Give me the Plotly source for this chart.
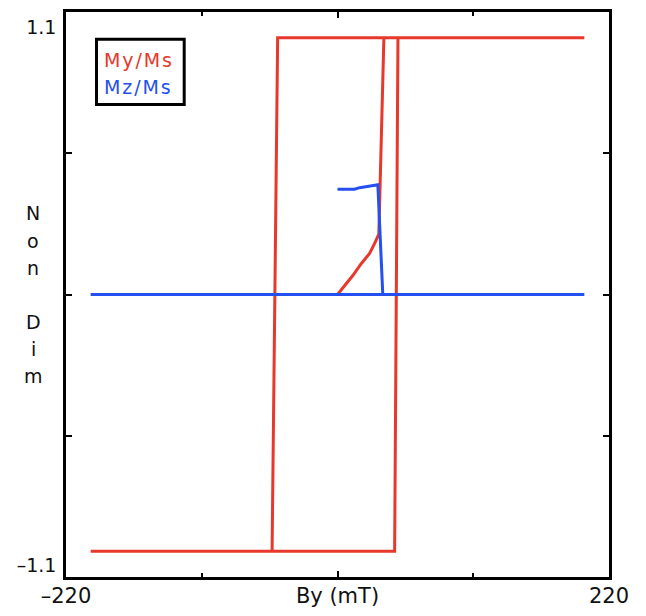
import plotly.graph_objects as go

# ---- data ----
my_init_x = [0, 12.4, 19.2, 26.0, 30.0, 33.5, 37.6, 200]
my_init_y = [0, 0.074, 0.12, 0.16, 0.198, 0.235, 1.0, 1.0]
my_loop_x = [200, -48.5, -53.0, -200, 46.3, 49.0, 200]
my_loop_y = [1, 1, -1, -1, -1, 1, 1]

mz_init_x = [0, 13.8, 17.9, 32.7, 36.7, 200]
mz_init_y = [0.41, 0.41, 0.416, 0.427, 0, 0]
mz_loop_x = [200, -200, 200]
mz_loop_y = [0, 0, 0]

x_tickvals = [-220, 0, 220]
x_ticktext = ["\u2013220", "By (mT)", "220"]
x_minor = [-110, 110]
y_tickvals = [-1.056, 1.042]
y_ticktext = ["\u20131.1", "1.1"]
y_minor = [-0.55, 0, 0.55]

series_names = ["My/Ms", "Mz/Ms"]
RED = "#E8372B"
BLUE = "#2350EE"

W, H = 646, 616
L, R, T, B = 66, 37, 12, 39


def px_x(px):
    return (px - L) / (W - L - R)


def px_y(py):
    return (H - B - py) / (H - T - B)


fig = go.Figure()
fig.add_trace(go.Scatter(x=my_init_x + my_loop_x, y=my_init_y + my_loop_y,
                         mode="lines", line=dict(color=RED, width=3),
                         name=series_names[0], showlegend=False))
fig.add_trace(go.Scatter(x=mz_init_x + mz_loop_x, y=mz_init_y + mz_loop_y,
                         mode="lines", line=dict(color=BLUE, width=3),
                         name=series_names[1], showlegend=False))

annotations = []
# legend text
for name, col, py in [(series_names[0], RED, 60), (series_names[1], BLUE, 87)]:
    annotations.append(dict(xref="paper", yref="paper", x=px_x(102), y=px_y(py),
                            xanchor="left", yanchor="middle", showarrow=False,
                            text='<span style="letter-spacing:1.9px">%s</span>' % name,
                            font=dict(size=19, color=col)))
# vertical y title "Non Dim"
title_letters = ["N", "o", "n", "D", "i", "m"]
title_py = [213, 241, 268, 322, 349, 376]
for ch, py in zip(title_letters, title_py):
    annotations.append(dict(xref="paper", yref="paper", x=px_x(33), y=px_y(py),
                            xanchor="center", yanchor="middle", showarrow=False,
                            text=ch, font=dict(size=19, color="#111111")))

fig.update_layout(
    width=W, height=H,
    margin=dict(l=L, r=R, t=T, b=B, pad=0, autoexpand=False),
    paper_bgcolor="white", plot_bgcolor="white",
    font=dict(family="DejaVu Sans", color="#111111"),
    showlegend=False,
    annotations=annotations,
    shapes=[dict(type="rect", xref="paper", yref="paper",
                 x0=px_x(96.5), x1=px_x(184.2), y0=px_y(104.5), y1=px_y(39.2),
                 line=dict(color="black", width=3), fillcolor="white", layer="below")],
)
fig.update_xaxes(range=[-220, 220], showgrid=False, zeroline=False, automargin=False,
                 showline=True, linecolor="black", linewidth=2.5, mirror="ticks",
                 tickmode="array", tickvals=x_tickvals, ticktext=x_ticktext,
                 ticks="inside", ticklen=6, tickwidth=2, tickcolor="black",
                 ticklabelstandoff=-2,
                 tickfont=dict(size=21, color="#111111"),
                 minor=dict(tickmode="array", tickvals=x_minor, ticks="inside",
                            ticklen=4, tickwidth=2, tickcolor="black", showgrid=False))
fig.update_yaxes(range=[-1.1, 1.1], showgrid=False, zeroline=False, automargin=False,
                 showline=True, linecolor="black", linewidth=2.5, mirror="ticks",
                 tickmode="array", tickvals=y_tickvals, ticktext=y_ticktext,
                 ticks="", ticklabelstandoff=3,
                 tickfont=dict(size=19, color="#111111"),
                 minor=dict(tickmode="array", tickvals=y_minor, ticks="inside",
                            ticklen=6, tickwidth=2, tickcolor="black", showgrid=False))

fig.write_html("out.html")
